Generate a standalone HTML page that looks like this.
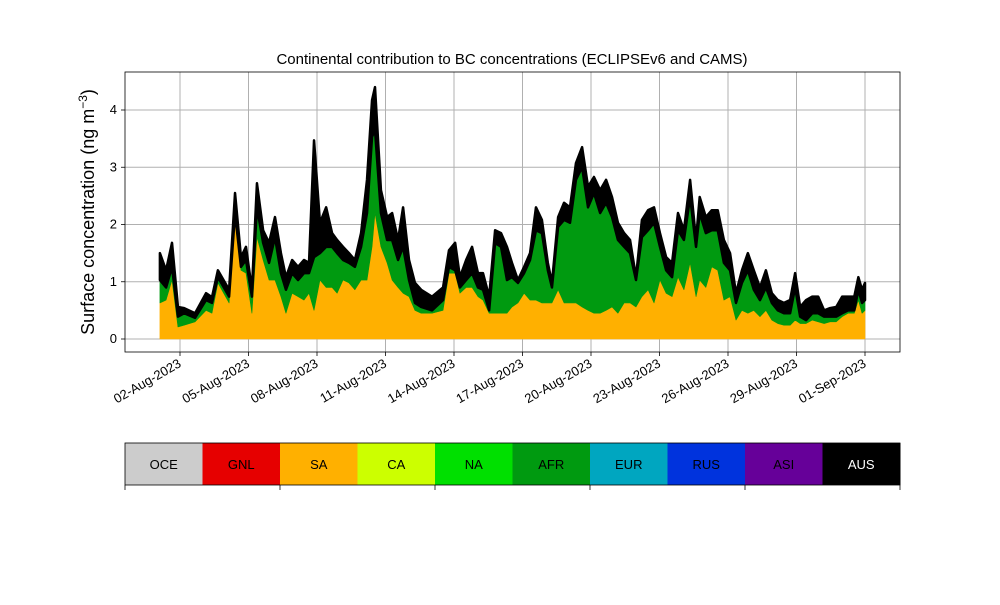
<!DOCTYPE html>
<html><head><meta charset="utf-8"><style>
body{margin:0;background:#fff;font-family:"Liberation Sans",sans-serif}
svg text{font-family:"Liberation Sans",sans-serif}
</style></head><body>
<svg id="c" width="1000" height="600" viewBox="0 0 1000 600"></svg>
<script>
const days=[1.12,1.39,1.65,1.91,2.18,2.66,3.14,3.40,3.66,4.15,4.41,4.67,4.89,5.15,5.37,5.64,5.90,6.16,6.42,6.64,6.91,7.17,7.43,7.65,7.87,8.13,8.40,8.66,8.88,9.14,9.40,9.66,9.93,10.19,10.41,10.54,10.80,11.07,11.29,11.55,11.77,12.03,12.29,12.56,13.04,13.52,13.78,14.05,14.26,14.53,14.79,15.05,15.27,15.54,15.80,16.06,16.32,16.54,16.80,17.07,17.33,17.59,17.85,18.11,18.29,18.56,18.82,19.08,19.34,19.61,19.87,20.13,20.40,20.66,20.92,21.18,21.45,21.71,21.97,22.23,22.50,22.76,23.02,23.29,23.55,23.81,24.07,24.34,24.60,24.76,25.03,25.29,25.55,25.82,26.09,26.35,26.61,26.87,27.13,27.40,27.66,27.92,28.18,28.45,28.72,28.94,29.16,29.42,29.69,29.95,30.21,30.47,30.74,31.00,31.26,31.53,31.71,31.87,32.00];
const sa=[.63,.68,1.03,.21,.24,.30,.50,.45,.98,.63,2.08,1.20,1.15,.45,1.78,1.38,1.03,1.03,.74,.45,.80,.74,.68,.80,.50,1.03,.90,.90,.80,1.03,.98,.86,1.03,1.03,1.61,2.20,1.61,1.33,1.03,.90,.80,.74,.50,.45,.45,.50,1.15,1.15,.80,.90,.90,.74,.68,.45,.45,.45,.45,.56,.63,.80,.68,.68,.63,.63,.63,.86,.63,.63,.63,.56,.50,.45,.45,.50,.56,.45,.63,.63,.56,.74,.86,.63,1.03,.80,.74,1.08,.86,1.33,.74,1.03,.90,1.26,1.20,.68,.74,.33,.50,.45,.50,.39,.50,.33,.27,.24,.24,.33,.27,.27,.33,.30,.27,.30,.30,.39,.45,.45,.68,.45,.50];
const afr=[.40,.22,.23,.18,.21,.07,.18,.18,.10,.11,.12,.06,.23,.29,.52,.30,.30,.75,.41,.41,.35,.29,.47,.35,.93,.47,.71,.71,.70,.35,.35,.40,.58,1.17,1.92,1.45,.59,.40,.70,.48,.81,.29,.13,.11,.05,.18,.11,.05,.10,.13,.25,.16,.18,.05,1.23,1.16,.58,.52,.35,.35,.70,1.22,1.22,.57,.27,1.10,1.45,1.40,2.15,2.44,1.80,2.10,1.75,1.88,1.57,1.28,.98,.87,.47,1.04,1.04,1.40,.58,.40,.34,.82,.87,1.15,.87,1.17,.95,.64,.70,.65,.46,.30,.48,.75,.36,.29,.40,.30,.23,.21,.21,.57,.12,.06,.12,.15,.12,.09,.09,.06,.05,.05,.18,.18,.18];
const aus=[.47,.30,.42,.17,.09,.08,.12,.10,.12,.12,.35,.17,.23,.12,.42,.22,.35,.35,.35,.22,.23,.23,.23,.18,2.04,.53,.69,.24,.23,.23,.17,.12,.24,.58,.64,.75,.40,.40,.47,.35,.69,.35,.35,.30,.24,.22,.29,.48,.18,.35,.46,.25,.29,.24,.22,.24,.58,.25,.05,.11,.12,.40,.23,.13,.08,.17,.30,.27,.29,.35,.36,.28,.40,.40,.35,.30,.24,.23,.05,.30,.35,.27,.24,.23,.25,.30,.17,.30,.12,.28,.28,.35,.35,.40,.30,.17,.22,.30,.34,.22,.30,.17,.18,.18,.23,.25,.17,.35,.29,.29,.11,.15,.17,.29,.24,.24,.22,.23,.30];
const yTicks=[0,1,2,3,4];
const xTickDays=[2,5,8,11,14,17,20,23,26,29,32];
const xTickLabels=["02-Aug-2023","05-Aug-2023","08-Aug-2023","11-Aug-2023","14-Aug-2023","17-Aug-2023","20-Aug-2023","23-Aug-2023","26-Aug-2023","29-Aug-2023","01-Sep-2023"];
const regions=["OCE","GNL","SA","CA","NA","AFR","EUR","RUS","ASI","AUS"];
const regionColors=["#cccccc","#e60000","#ffb000","#ccff00","#00e000","#009a10","#00a6c0","#0033dd","#660099","#000000"];

const NS="http://www.w3.org/2000/svg",svg=document.getElementById('c');
const L=125,R=900,T=72,B=352;
const X=d=>180+(d-2)*(865-180)/30;
const Y=v=>339-v*(339-110)/4;
function el(t,a,p){const e=document.createElementNS(NS,t);for(const k in a)e.setAttribute(k,a[k]);(p||svg).appendChild(e);return e;}
yTicks.forEach(v=>{const g=el('line',{x1:L,x2:R,y1:Y(v),y2:Y(v),stroke:'#b0b0b0','stroke-width':1});});
xTickDays.forEach(d=>{const g=el('line',{x1:X(d),x2:X(d),y1:T,y2:B,stroke:'#b0b0b0','stroke-width':1});});
const series=[{n:'SA',v:sa,c:regionColors[2]},{n:'AFR',v:afr,c:regionColors[5]},{n:'AUS',v:aus,c:regionColors[9]}];
let base=days.map(()=>0);
series.forEach(s=>{
  const top=base.map((b,i)=>b+s.v[i]);
  let d='M'+days.map((t,i)=>X(t)+','+Y(top[i])).join('L');
  for(let i=days.length-1;i>=0;i--)d+='L'+X(days[i])+','+Y(base[i]);
  const p=el('path',{d:d+'Z',fill:s.c,stroke:s.c,'stroke-width':s.n==='AUS'?2.5:0.6,'stroke-linejoin':'round'});
  
  
  base=top;
});
// redraw upper stacks' bottoms over thick AUS stroke
(function(){
  const top=days.map((t,i)=>sa[i]+afr[i]);
  let d='M'+days.map((t,i)=>X(t)+','+Y(top[i])).join('L');
  for(let i=days.length-1;i>=0;i--)d+='L'+X(days[i])+','+Y(0);
  const p=el('path',{d:d+'Z',fill:'none',stroke:'none'});
  
})();
const fr=el('rect',{x:L,y:T,width:R-L,height:B-T,fill:'none',stroke:'#000','stroke-width':0.8});

yTicks.forEach(v=>{
  el('line',{x1:L-4,x2:L,y1:Y(v),y2:Y(v),stroke:'#000','stroke-width':0.8});
  const t=el('text',{x:L-8,y:Y(v)+4,'text-anchor':'end','font-size':13});t.textContent=v;
  
});
xTickDays.forEach((d,i)=>{
  el('line',{x1:X(d),x2:X(d),y1:B,y2:B+4,stroke:'#000','stroke-width':0.8});
  const t=el('text',{x:X(d)+2,y:B+14,'text-anchor':'end','font-size':13,transform:`rotate(-30 ${X(d)+2} ${B+14})`});t.textContent=xTickLabels[i];
  
});
const ti=el('text',{x:512,y:64,'text-anchor':'middle','font-size':15});ti.textContent='Continental contribution to BC concentrations (ECLIPSEv6 and CAMS)';

const yl=el('text',{x:94,y:212,'text-anchor':'middle','font-size':18,transform:'rotate(-90 94 212)'});yl.innerHTML='Surface concentration (ng m<tspan dy="-7" font-size="12">−3</tspan><tspan dy="7">)</tspan>';

const w=(R-L)/regions.length;
regions.forEach((r,i)=>{
  const x=L+i*w;
  const rc=el('rect',{x:x,y:443,width:w+0.5,height:42,fill:regionColors[i]});
  
  const t=el('text',{x:x+w/2,y:469,'text-anchor':'middle','font-size':13,fill:r==='AUS'?'#fff':'#000'});t.textContent=r;
  
});
const lb=el('rect',{x:L,y:443,width:R-L,height:42,fill:'none',stroke:'#000','stroke-width':0.8});

for(let i=0;i<=regions.length;i+=2)el('line',{x1:L+i*w,x2:L+i*w,y1:485,y2:490,stroke:'#000','stroke-width':0.8});
</script>
</body></html>
